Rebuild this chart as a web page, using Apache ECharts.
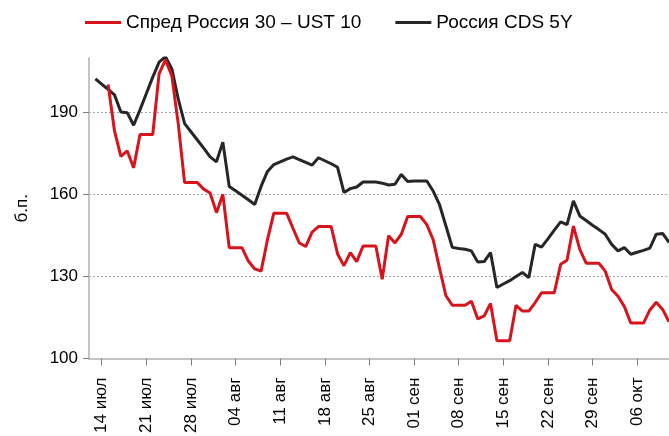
<!DOCTYPE html>
<html><head><meta charset="utf-8">
<script src="https://cdn.jsdelivr.net/npm/echarts@6/dist/echarts.min.js"></script>
<style>html,body{margin:0;padding:0;background:#fff}#c{width:669px;height:436px}</style>
</head><body><div id="c"></div>
<script>
// Daily calendar dates, 12 Jul .. 11 Oct
const startDay = 12, startMonth = 7;
const monthNames = {7:'июл', 8:'авг', 9:'сен', 10:'окт'};
const dayCount = 92;
const categories = [];
(function(){
  const dim = {7:31, 8:31, 9:30, 10:31};
  let d = startDay, m = startMonth;
  for (let i = 0; i < dayCount; i++) {
    categories.push((d < 10 ? '0' + d : '' + d) + ' ' + monthNames[m]);
    d++; if (d > dim[m]) { d = 1; m++; }
  }
})();

const spreadName = 'Спред Россия 30 – UST 10';
const cdsName = 'Россия CDS 5Y';

const spreadValues = [
  null, null, null, 200.3, 183.3, 174, 176, 169.8, 182, 182,
  182, 204.3, 209.3, 203.4, 186, 164.4, 164.4, 164.4, 162, 160.6,
  153.4, 160.1, 140.6, 140.6, 140.6, 135.7, 132.8, 132, 143.5, 153.2,
  153.2, 153.2, 147.7, 142.3, 141, 146.3, 148.3, 148.3, 148.3, 138.3,
  134, 138.8, 135.5, 141.2, 141.2, 141.2, 129, 145, 142.3, 145.5,
  152, 152, 152, 149, 143.5, 133, 123, 119.5, 119.5, 119.5,
  121, 114.5, 115.6, 120.2, 106.5, 106.5, 106.5, 119.5, 117.4, 117.4,
  120.5, 124.1, 124.1, 124.1, 134.5, 136, 148.5, 140, 134.9, 134.9,
  134.9, 132, 125.3, 122.8, 119, 113, 113, 113, 117.8, 120.6,
  118, 113.5
];
const cdsValues = [
  null, 202.4, 200.4, 198.5, 196.5, 190.2, 190, 185.4, 191, 197,
  203, 208.5, 210.5, 206, 195, 186, 183, 180, 177, 173.8,
  172, 179.2, 163, 161.4, 159.8, 158.1, 156.4, 163, 168.5, 171,
  172, 173, 173.8, 172.8, 171.8, 170.8, 173.5, 172.4, 171.3, 170,
  160.8, 162.2, 162.8, 164.6, 164.6, 164.6, 164.2, 163.5, 163.8, 167.4,
  164.8, 165, 165, 165, 161.3, 156.3, 148.5, 140.7, 140.3, 140,
  139.4, 135.3, 135.5, 138.8, 126, 127.3, 128.5, 130, 131.5, 129.6,
  141.8, 140.8, 143.8, 147, 150, 149, 157.7, 152.2, 150.5, 148.8,
  147.2, 145.5, 141.8, 139.4, 140.6, 138.2, 138.9, 139.6, 140.4, 145.5,
  145.8, 142.5
];
const yTicks = [100, 130, 160, 190];
const yMin = 100, yMax = 210;
const yAxisName = 'б.п.';

const FONT = 'Liberation Sans';
const weekly = function (idx) { return idx % 7 === 2; };

const chart = echarts.init(document.getElementById('c'), null, {renderer: 'canvas'});
chart.setOption({
  animation: false,
  backgroundColor: '#ffffff',
  textStyle: {fontFamily: FONT},
  legend: {
    left: 80, top: 8,
    itemWidth: 36, itemHeight: 3, itemGap: 34,
    icon: 'rect',
    textStyle: {fontFamily: FONT, fontSize: 19, color: '#000'},
    data: [spreadName, cdsName]
  },
  grid: {left: 89, right: -1, top: 58, bottom: 77, containLabel: false},
  xAxis: {
    type: 'category',
    data: categories,
    boundaryGap: false,
    axisLine: {lineStyle: {color: '#c4c4c4', width: 2}},
    axisTick: {show: true, interval: weekly, length: 7, lineStyle: {color: '#7f7f7f', width: 1}},
    axisLabel: {interval: weekly, rotate: 90, margin: 19, fontFamily: FONT, fontSize: 17, color: '#000'},
    splitLine: {show: false}
  },
  yAxis: {
    type: 'value',
    min: yMin, max: yMax,
    name: yAxisName,
    nameLocation: 'middle',
    nameGap: 58,
    nameRotate: 90,
    nameTextStyle: {fontFamily: FONT, fontSize: 17, color: '#000'},
    axisLine: {show: true, lineStyle: {color: '#c4c4c4', width: 2}},
    axisTick: {show: true, length: 6, customValues: yTicks, lineStyle: {color: '#7f7f7f', width: 1}},
    axisLabel: {customValues: yTicks, margin: 11, fontFamily: FONT, fontSize: 17, color: '#000'},
    splitLine: {show: true, lineStyle: {color: '#a6a6a6', type: [2, 2], width: 1}}
  },
  series: [
    {name: spreadName, type: 'line', data: spreadValues, showSymbol: false, symbol: 'none',
     connectNulls: true, lineStyle: {color: '#d7141c', width: 3}, itemStyle: {color: '#d7141c'}, z: 3},
    {name: cdsName, type: 'line', data: cdsValues, showSymbol: false, symbol: 'none',
     connectNulls: true, lineStyle: {color: '#262626', width: 3}, itemStyle: {color: '#262626'}, z: 2}
  ]
});
</script>
</body></html>
